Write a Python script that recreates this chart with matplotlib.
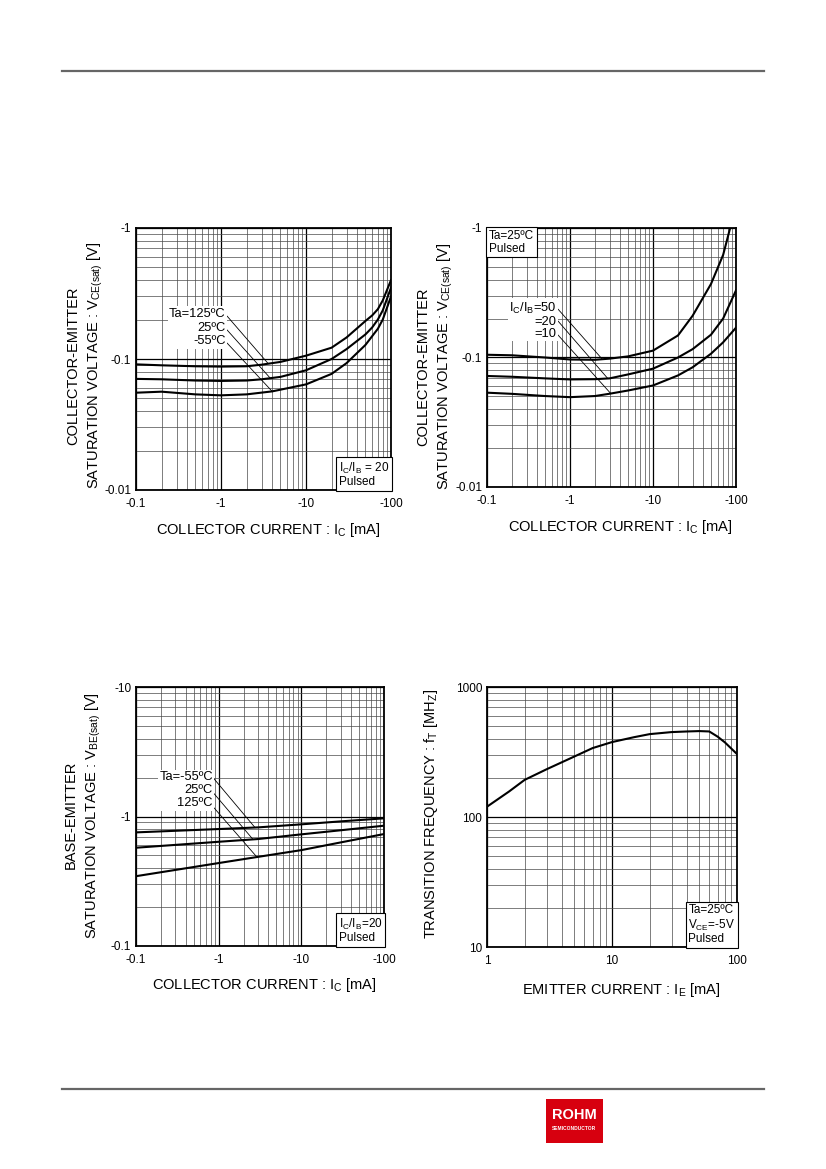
import numpy as np
import matplotlib.pyplot as plt
from matplotlib.lines import Line2D
from matplotlib.patches import Rectangle
from matplotlib.ticker import LogLocator, NullFormatter, FuncFormatter

plt.rcParams['font.family'] = ['Liberation Sans', 'DejaVu Sans']
plt.rcParams['mathtext.fontset'] = 'custom'
plt.rcParams['mathtext.rm'] = 'Liberation Sans'
plt.rcParams['mathtext.it'] = 'Liberation Sans:italic'

# --- VCE(sat) vs IC, IC/IB = 20 (magnitudes, plotted with "-" labels)
ic_125 = [0.1, 0.2, 0.5, 1, 2, 3, 5, 10, 20, 30, 50, 60, 70, 80, 100]
vce_125 = [0.091, 0.0895, 0.088, 0.0875, 0.088, 0.0905, 0.095, 0.106, 0.122, 0.146, 0.195, 0.215, 0.24, 0.28, 0.40]
ic_25 = [0.1, 0.2, 0.5, 1, 2, 3, 5, 10, 20, 30, 50, 60, 70, 80, 100]
vce_25 = [0.0705, 0.070, 0.0685, 0.068, 0.0685, 0.070, 0.073, 0.082, 0.100, 0.119, 0.154, 0.174, 0.20, 0.235, 0.35]
ic_m55 = [0.1, 0.2, 0.5, 1, 2, 4, 10, 20, 30, 50, 70, 80, 100]
vce_m55 = [0.0553, 0.0563, 0.0537, 0.0528, 0.0537, 0.0566, 0.064, 0.077, 0.093, 0.128, 0.17, 0.20, 0.30]

# --- VCE(sat) vs IC, Ta = 25C, various IC/IB
ic_r50 = [0.1, 0.2, 0.5, 1, 2, 3, 5, 10, 20, 30, 50, 70, 85]
vce_r50 = [0.105, 0.104, 0.100, 0.0965, 0.096, 0.098, 0.102, 0.113, 0.148, 0.21, 0.37, 0.62, 1.0]
ic_r20 = [0.1, 0.2, 0.5, 1, 2, 3, 5, 10, 20, 30, 50, 70, 100]
vce_r20 = [0.072, 0.071, 0.069, 0.0677, 0.068, 0.069, 0.074, 0.082, 0.100, 0.116, 0.15, 0.20, 0.33]
ic_r10 = [0.1, 0.2, 0.5, 1, 2, 3, 5, 10, 20, 30, 50, 70, 100]
vce_r10 = [0.0535, 0.0524, 0.0504, 0.0494, 0.0504, 0.0525, 0.0556, 0.0608, 0.0727, 0.084, 0.107, 0.131, 0.17]

# --- VBE(sat) vs IC
ic_be = [0.1, 1, 3, 10, 30, 100]
vbe_m55 = [0.754, 0.80, 0.824, 0.87, 0.917, 0.968]
vbe_25 = [0.574, 0.638, 0.67, 0.728, 0.783, 0.849]
vbe_125 = [0.346, 0.437, 0.488, 0.55, 0.631, 0.732]

# --- fT vs IE
ie = [1, 1.5, 2, 3, 5, 7, 10, 15, 20, 30, 40, 50, 60, 70, 80, 100]
ft = [120, 157, 193, 233, 292, 339, 377, 411, 434, 450, 455, 458, 455, 415, 375, 305]

W, H = 826, 1169
fig = plt.figure(figsize=(W / 100, H / 100), dpi=100)


def px_axes(left, top, right, bottom):
    return fig.add_axes([left / W, 1 - bottom / H, (right - left) / W, (bottom - top) / H])


def neg_fmt(v, pos):
    return '-' + ('%g' % v)


def style(ax, xlim, ylim, negative=True):
    ax.set_xscale('log')
    ax.set_yscale('log')
    ax.set_xlim(*xlim)
    ax.set_ylim(*ylim)
    for axis in (ax.xaxis, ax.yaxis):
        axis.set_major_locator(LogLocator(base=10, numticks=10))
        axis.set_minor_locator(LogLocator(base=10, subs=np.arange(2, 10), numticks=20))
        axis.set_minor_formatter(NullFormatter())
        if negative:
            axis.set_major_formatter(FuncFormatter(neg_fmt))
        else:
            axis.set_major_formatter(FuncFormatter(lambda v, p: '%g' % v))
    ax.grid(True, which='major', color='black', lw=0.9)
    ax.grid(True, which='minor', color='#4a4a4a', lw=0.5)
    ax.tick_params(which='both', length=0, labelsize=8.5, colors='black')
    ax.tick_params(axis='y', pad=3.5)
    ax.tick_params(axis='x', pad=5.5)
    for sp in ax.spines.values():
        sp.set_linewidth(1.3)
    ax.set_axisbelow(True)


def leader(ax, start, x, xs, ys):
    yv = 10 ** np.interp(np.log10(x), np.log10(xs), np.log10(ys))
    ax.annotate('', xy=(x, yv), xycoords='data', xytext=start, textcoords='axes fraction',
                arrowprops=dict(arrowstyle='-', lw=0.6, color='black', shrinkA=0, shrinkB=0))


def cond_box(ax, text, x, y, ha, va):
    ax.text(x, y, text, transform=ax.transAxes, ha=ha, va=va, fontsize=8.5, linespacing=1.1,
            multialignment='left',
            bbox=dict(boxstyle='square,pad=0.22', fc='white', ec='black', lw=0.8), zorder=5)


lbl_kw = dict(fontsize=10.5, linespacing=1.45)
curve_kw = dict(color='black', lw=1.5, zorder=4)
note_bbox = dict(boxstyle='square,pad=0.12', fc='white', ec='none')

# ---------- top-left
ax1 = px_axes(136, 228, 391, 490)
style(ax1, (0.1, 100), (0.01, 1))
ax1.plot(ic_125, vce_125, **curve_kw)
ax1.plot(ic_25, vce_25, **curve_kw)
ax1.plot(ic_m55, vce_m55, **curve_kw)
ax1.text(0.352, 0.695, 'Ta=125ºC\n25ºC\n-55ºC', transform=ax1.transAxes, ha='right', va='top',
         fontsize=9.3, linespacing=1.18, bbox=note_bbox, zorder=5)
leader(ax1, (0.357, 0.664), 3.6, ic_125, vce_125)
leader(ax1, (0.357, 0.611), 3.8, ic_25, vce_25)
leader(ax1, (0.357, 0.561), 4.0, ic_m55, vce_m55)
cond_box(ax1, 'I$_\\mathrm{C}$/I$_\\mathrm{B}$ = 20\nPulsed', 0.993, 0.006, 'right', 'bottom')
ax1.set_ylabel('COLLECTOR-EMITTER\nSATURATION VOLTAGE : V$_\\mathrm{CE(sat)}$ [V]', **lbl_kw)
ax1.yaxis.set_label_coords(-0.122, 0.475)
ax1.set_xlabel('COLLECTOR CURRENT : I$_\\mathrm{C}$ [mA]', fontsize=10.5, va='top')
ax1.xaxis.set_label_coords(0.518, -0.12)

# ---------- top-right
ax2 = px_axes(487, 228, 736, 487)
style(ax2, (0.1, 100), (0.01, 1))
ax2.plot(ic_r50, vce_r50, **curve_kw)
ax2.plot(ic_r20, vce_r20, **curve_kw)
ax2.plot(ic_r10, vce_r10, **curve_kw)
ax2.text(0.28, 0.72, 'I$_\\mathrm{C}$/I$_\\mathrm{B}$=50\n=20\n=10', transform=ax2.transAxes, ha='right', va='top',
         fontsize=9.3, linespacing=1.0, bbox=note_bbox, zorder=5)
leader(ax2, (0.285, 0.687), 2.45, ic_r50, vce_r50)
leader(ax2, (0.285, 0.641), 2.85, ic_r20, vce_r20)
leader(ax2, (0.285, 0.587), 3.1, ic_r10, vce_r10)
cond_box(ax2, 'Ta=25ºC\nPulsed', 0.008, 0.993, 'left', 'top')
ax2.set_ylabel('COLLECTOR-EMITTER\nSATURATION VOLTAGE : V$_\\mathrm{CE(sat)}$ [V]', **lbl_kw)
ax2.yaxis.set_label_coords(-0.128, 0.465)
ax2.set_xlabel('COLLECTOR CURRENT : I$_\\mathrm{C}$ [mA]', fontsize=10.5, va='top')
ax2.xaxis.set_label_coords(0.534, -0.12)

# ---------- bottom-left
ax3 = px_axes(136, 687, 384, 946)
style(ax3, (0.1, 100), (0.1, 10))
ax3.plot(ic_be, vbe_m55, **curve_kw)
ax3.plot(ic_be, vbe_25, **curve_kw)
ax3.plot(ic_be, vbe_125, **curve_kw)
ax3.text(0.31, 0.675, 'Ta=-55ºC\n25ºC\n125ºC', transform=ax3.transAxes, ha='right', va='top',
         fontsize=9.3, linespacing=1.1, bbox=note_bbox, zorder=5)
leader(ax3, (0.315, 0.645), 2.75, ic_be, vbe_m55)
leader(ax3, (0.315, 0.588), 2.6, ic_be, vbe_25)
leader(ax3, (0.315, 0.533), 2.9, ic_be, vbe_125)
cond_box(ax3, 'I$_\\mathrm{C}$/I$_\\mathrm{B}$=20\nPulsed', 0.993, 0.006, 'right', 'bottom')
ax3.set_ylabel('BASE-EMITTER\nSATURATION VOLTAGE : V$_\\mathrm{BE(sat)}$ [V]', **lbl_kw)
ax3.yaxis.set_label_coords(-0.135, 0.505)
ax3.set_xlabel('COLLECTOR CURRENT : I$_\\mathrm{C}$ [mA]', fontsize=10.5, va='top')
ax3.xaxis.set_label_coords(0.518, -0.115)

# ---------- bottom-right
ax4 = px_axes(487, 687, 737, 947)
style(ax4, (1, 100), (10, 1000), negative=False)
ax4.plot(ie, ft, **curve_kw)
cond_box(ax4, 'Ta=25ºC\nV$_\\mathrm{CE}$=-5V\nPulsed', 0.993, 0.006, 'right', 'bottom')
ax4.set_ylabel('TRANSITION FREQUENCY : f$_\\mathrm{T}$ [MH$_\\mathrm{Z}$]', fontsize=10.5)
ax4.yaxis.set_label_coords(-0.19, 0.51)
ax4.set_xlabel('EMITTER CURRENT : I$_\\mathrm{E}$ [mA]', fontsize=10.5, va='top')
ax4.xaxis.set_label_coords(0.537, -0.13)

# ---------- page decoration
fig.add_artist(Line2D([62 / W, 764 / W], [1 - 71 / H] * 2, color='#666666', lw=1.6))
fig.add_artist(Line2D([62 / W, 764 / W], [1 - 1089 / H] * 2, color='#666666', lw=1.6))
fig.add_artist(Rectangle((546 / W, 1 - 1143 / H), 57 / W, 44 / H, fc='#d7000f', ec='none'))
fig.text(574.5 / W, 1 - 1115 / H, 'ROHM', color='white', fontsize=10.5, fontweight='bold',
         ha='center', va='center')
fig.text(574.5 / W, 1 - 1129 / H, 'SEMICONDUCTOR', color='white', fontsize=3.5, fontweight='bold',
         ha='center', va='center')

fig.savefig('out.png', dpi=100)
